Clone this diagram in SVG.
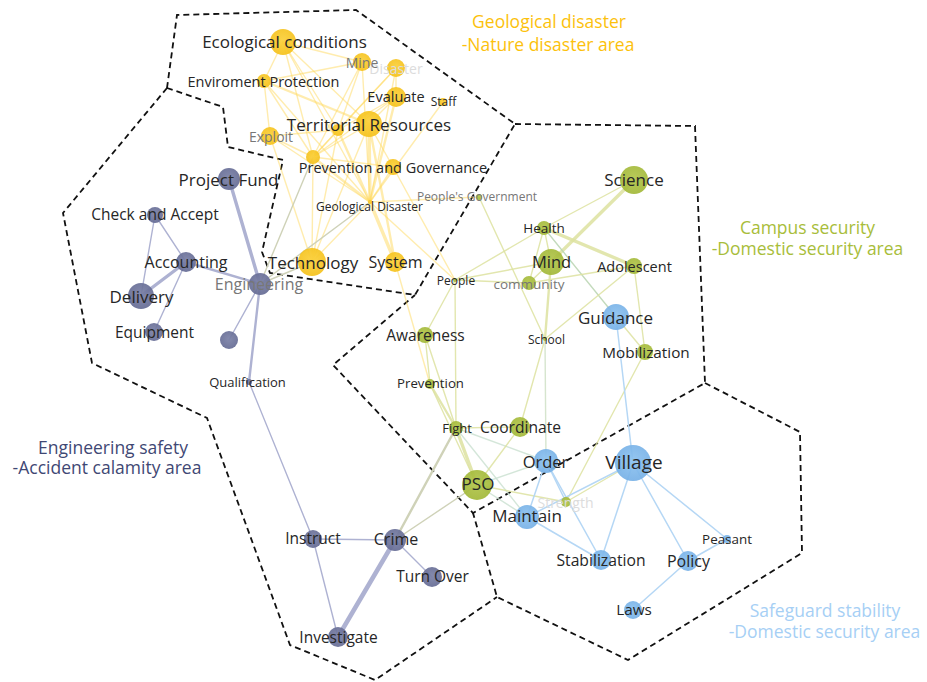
<svg xmlns="http://www.w3.org/2000/svg" width="927" height="682" viewBox="0 0 927 682">
  <defs>
    <radialGradient id="gy" cx="50%" cy="45%" r="55%">
      <stop offset="0" stop-color="#fbd03a"/>
      <stop offset="1" stop-color="#f5c11a"/>
    </radialGradient>
    <radialGradient id="gg" cx="50%" cy="45%" r="55%">
      <stop offset="0" stop-color="#b2c54a"/>
      <stop offset="1" stop-color="#a2b838"/>
    </radialGradient>
    <radialGradient id="gb" cx="50%" cy="45%" r="55%">
      <stop offset="0" stop-color="#8cc2f0"/>
      <stop offset="1" stop-color="#76b0e6"/>
    </radialGradient>
    <radialGradient id="gs" cx="50%" cy="45%" r="55%">
      <stop offset="0" stop-color="#7a80a6"/>
      <stop offset="1" stop-color="#646a93"/>
    </radialGradient>
    <style>
      .bd { fill: none; stroke: #111; stroke-width: 1.8; stroke-dasharray: 6 4; stroke-linejoin: miter; }
      .e { fill: none; stroke-linecap: round; }
      .ey { stroke: #ffd95e; stroke-opacity: .5; stroke-width: 1.4; }
      .eg { stroke: #dde2a0; stroke-opacity: .85; stroke-width: 1.4; }
      .eb { stroke: #b5d7f5; stroke-width: 1.5; }
      .es { stroke: #aeb2d2; stroke-width: 1.4; }
      .ex { stroke: #cfd2b8; stroke-width: 1.4; }
      .w2 { stroke-width: 2.4; }
      .w3 { stroke-width: 3.4; }
      .w4 { stroke-width: 4.5; }
      .ny { fill: url(#gy); opacity: .92; }
      .ng { fill: url(#gg); opacity: .92; }
      .nb { fill: url(#gb); opacity: .92; }
      .ns { fill: url(#gs); opacity: .92; }
      text { font-family: "Open Sans", "Noto Sans", "DejaVu Sans", sans-serif; text-anchor: middle; dominant-baseline: central; }
      .t { fill: #262626; }
      .tg { fill: #777; }
      .tf { fill: #dcdcdc; }
      .ry { fill: #fcc10c; font-size: 17.5px; }
      .rg { fill: #a8bd3a; font-size: 17.5px; }
      .rs { fill: #3f4874; font-size: 17.5px; }
      .rb { fill: #a6cff5; font-size: 17.5px; }
    </style>
  </defs>
  <rect width="927" height="682" fill="#fff"/>

  <!-- area borders -->
  <g id="borders">
    <path class="bd" d="M167,88 L177,15 L356,10 L515,124 L415,295 L270,273 L262,252 L283,160 L228,147 L223,107 Z"/>
    <path class="bd" d="M515,124 L695,126 L705,383 L473,513 L333,365 L415,295"/>
    <path class="bd" d="M705,383 L800,432 L802,553 L628,660 L497,597 L473,513"/>
    <path class="bd" d="M167,88 L63,213 L92,363 L207,418 L290,645 L375,680 L497,597"/>
  </g>

  <!-- connectors -->
  <g id="connectors" class="e">
    <!-- geological cluster -->
    <line class="ey" x1="283" y1="42" x2="362" y2="62"/>
    <line class="ey" x1="283" y1="42" x2="264" y2="81"/>
    <line class="ey" x1="283" y1="42" x2="338" y2="130"/>
    <line class="ey" x1="283" y1="42" x2="369" y2="124"/>
    <line class="ey" x1="283" y1="42" x2="313" y2="157"/>
    <line class="ey" x1="283" y1="42" x2="370" y2="202"/>
    <line class="ey" x1="264" y1="81" x2="362" y2="62"/>
    <line class="ey w2" x1="264" y1="81" x2="369" y2="124"/>
    <line class="ey" x1="264" y1="81" x2="270" y2="136"/>
    <line class="ey" x1="264" y1="81" x2="313" y2="157"/>
    <line class="ey" x1="264" y1="81" x2="370" y2="202"/>
    <line class="ey" x1="362" y1="62" x2="338" y2="130"/>
    <line class="ey" x1="362" y1="62" x2="313" y2="157"/>
    <line class="ey" x1="362" y1="62" x2="370" y2="202"/>
    <line class="ey" x1="396" y1="68" x2="338" y2="130"/>
    <line class="ey" x1="396" y1="68" x2="396" y2="97"/>
    <line class="ey" x1="396" y1="68" x2="370" y2="202"/>
    <line class="ey" x1="396" y1="68" x2="313" y2="157"/>
    <line class="ey" x1="396" y1="97" x2="338" y2="130"/>
    <line class="ey w2" x1="396" y1="97" x2="370" y2="202"/>
    <line class="ey" x1="396" y1="97" x2="369" y2="124"/>
    <line class="ey" x1="396" y1="97" x2="313" y2="157"/>
    <line class="ey" x1="443" y1="102" x2="370" y2="202"/>
    <line class="ey w3" x1="369" y1="124" x2="370" y2="202"/>
    <line class="ey w2" x1="369" y1="124" x2="395" y2="262"/>
    <line class="ey" x1="369" y1="124" x2="312" y2="262"/>
    <line class="ey" x1="369" y1="124" x2="313" y2="157"/>
    <line class="ey" x1="369" y1="124" x2="393" y2="167"/>
    <line class="ey" x1="338" y1="130" x2="312" y2="262"/>
    <line class="ey w2" x1="338" y1="130" x2="370" y2="202"/>
    <line class="ey" x1="338" y1="130" x2="313" y2="157"/>
    <line class="ey" x1="270" y1="136" x2="338" y2="130"/>
    <line class="ey" x1="270" y1="136" x2="313" y2="157"/>
    <line class="ey" x1="270" y1="136" x2="312" y2="262"/>
    <line class="ey" x1="270" y1="136" x2="370" y2="202"/>
    <line class="ey" x1="313" y1="157" x2="312" y2="262"/>
    <line class="ey w2" x1="313" y1="157" x2="370" y2="202"/>
    <line class="ey" x1="313" y1="157" x2="393" y2="167"/>
    <line class="ey" x1="393" y1="167" x2="370" y2="202"/>
    <line class="ey" x1="393" y1="167" x2="455" y2="280"/>
    <line class="ey w3" x1="370" y1="202" x2="395" y2="262"/>
    <line class="ey" x1="370" y1="202" x2="312" y2="262"/>
    <line class="ey" x1="370" y1="202" x2="455" y2="280"/>
    <line class="ey" x1="370" y1="202" x2="479" y2="197"/>
    <line class="ey" x1="395" y1="262" x2="430" y2="384"/>
    <line class="ex" x1="260" y1="284" x2="370" y2="202"/>
    <line class="ex" x1="260" y1="284" x2="313" y2="157"/>
    <line class="ex" x1="260" y1="284" x2="312" y2="262"/>

    <!-- campus cluster -->
    <line class="eg" x1="479" y1="197" x2="545" y2="339"/>
    <line class="eg" x1="634" y1="180" x2="544" y2="228"/>
    <line class="eg w3" x1="634" y1="180" x2="551" y2="262"/>
    <line class="eg" x1="544" y1="228" x2="551" y2="262"/>
    <line class="eg w3" x1="544" y1="228" x2="634" y2="266"/>
    <line class="eg" x1="544" y1="228" x2="455" y2="280"/>
    <line class="eg" x1="544" y1="228" x2="529" y2="283"/>
    <line class="eg" x1="544" y1="228" x2="616" y2="317" style="stroke:#b9d3b0"/>
    <line class="eg" x1="551" y1="262" x2="455" y2="280"/>
    <line class="eg" x1="551" y1="262" x2="529" y2="283"/>
    <line class="eg w2" x1="551" y1="262" x2="545" y2="339"/>
    <line class="eg" x1="455" y1="280" x2="529" y2="283"/>
    <line class="eg" x1="529" y1="283" x2="634" y2="266"/>
    <line class="eg" x1="455" y1="280" x2="425" y2="335"/>
    <line class="eg" x1="455" y1="280" x2="456" y2="428"/>
    <line class="eg" x1="634" y1="266" x2="545" y2="339"/>
    <line class="eg" x1="634" y1="266" x2="645" y2="352"/>
    <line class="eg" x1="616" y1="317" x2="645" y2="352"/>
    <line class="eg" x1="645" y1="352" x2="566" y2="502"/>
    <line class="eg" x1="545" y1="339" x2="520" y2="427"/>
    <line class="eg" x1="545" y1="339" x2="546" y2="461" style="stroke:#cfe0c6"/>
    <line class="eg" x1="425" y1="335" x2="430" y2="384"/>
    <line class="eg" x1="425" y1="335" x2="456" y2="428"/>
    <line class="eg w2" x1="430" y1="384" x2="456" y2="428"/>
    <line class="eg" x1="430" y1="384" x2="477" y2="485"/>
    <line class="eg w3" x1="456" y1="428" x2="477" y2="485"/>
    <line class="eg" x1="456" y1="428" x2="520" y2="427"/>
    <line class="eg" x1="456" y1="428" x2="546" y2="461" style="stroke:#cde2d2"/>
    <line class="eg" x1="456" y1="428" x2="527" y2="517" style="stroke:#cde2d2"/>
    <line class="eg" x1="520" y1="427" x2="477" y2="485"/>
    <line class="eg" x1="477" y1="485" x2="546" y2="461" style="stroke:#cde2d2"/>
    <line class="eg" x1="477" y1="485" x2="566" y2="502"/>
    <line class="eg" x1="477" y1="485" x2="527" y2="517" style="stroke:#cde2d2"/>
    <line class="eg" x1="566" y1="502" x2="633" y2="463"/>

    <!-- safeguard cluster -->
    <line class="eb" x1="616" y1="317" x2="633" y2="463"/>
    <line class="eb" x1="546" y1="461" x2="527" y2="517"/>
    <line class="eb" x1="546" y1="461" x2="601" y2="560"/>
    <line class="eb" x1="546" y1="461" x2="566" y2="502"/>
    <line class="eb" x1="633" y1="463" x2="527" y2="517"/>
    <line class="eb" x1="633" y1="463" x2="601" y2="560"/>
    <line class="eb" x1="633" y1="463" x2="688" y2="561"/>
    <line class="eb" x1="633" y1="463" x2="727" y2="539"/>
    <line class="eb" x1="527" y1="517" x2="601" y2="560"/>
    <line class="eb" x1="688" y1="561" x2="727" y2="539"/>
    <line class="eb" x1="688" y1="561" x2="633" y2="610"/>

    <!-- engineering cluster -->
    <line class="es w3" x1="229" y1="179" x2="260" y2="284"/>
    <line class="es" x1="155" y1="215" x2="186" y2="262"/>
    <line class="es" x1="155" y1="215" x2="141" y2="296"/>
    <line class="es w3" x1="186" y1="262" x2="141" y2="296"/>
    <line class="es" x1="186" y1="262" x2="154" y2="332"/>
    <line class="es w2" x1="186" y1="262" x2="260" y2="284"/>
    <line class="es" x1="260" y1="284" x2="229" y2="340"/>
    <line class="es w2" x1="260" y1="284" x2="249" y2="382"/>
    <line class="es" x1="249" y1="382" x2="313" y2="539"/>
    <line class="es" x1="313" y1="539" x2="395" y2="540"/>
    <line class="es" x1="313" y1="539" x2="338" y2="637"/>
    <line class="es w4" x1="395" y1="540" x2="338" y2="637"/>
    <line class="es" x1="395" y1="540" x2="432" y2="577"/>
    <line class="ex w2" x1="395" y1="540" x2="456" y2="428"/>
    <line class="ex" x1="395" y1="540" x2="477" y2="485"/>
  </g>

  <!-- geological disaster nodes -->
  <g id="ecological-conditions"><circle class="ny" cx="283" cy="42" r="13"/><text class="t" x="284.5" y="41" font-size="17">Ecological conditions</text></g>
  <g id="disaster"><circle class="ny" cx="396" cy="68" r="9"/><text class="tf" x="396" y="68" font-size="14">Disaster</text></g>
  <g id="mine"><circle class="ny" cx="362" cy="62" r="9"/><text class="tg" x="362" y="62" font-size="14">Mine</text></g>
  <g id="enviroment-protection"><circle class="ny" cx="264" cy="81" r="7"/><text class="t" x="263.5" y="81" font-size="14.5">Enviroment Protection</text></g>
  <g id="evaluate"><circle class="ny" cx="396" cy="97" r="10"/><text class="t" x="396" y="96" font-size="14.5">Evaluate</text></g>
  <g id="staff"><circle class="ny" cx="443" cy="102" r="4"/><text class="t" x="443.5" y="101" font-size="12">Staff</text></g>
  <g id="territorial-resources"><circle class="ny" cx="369" cy="124" r="13"/><circle class="ny" cx="338" cy="130" r="6"/><text class="t" x="369" y="124" font-size="17">Territorial Resources</text></g>
  <g id="exploit"><circle class="ny" cx="270" cy="136" r="9"/><text class="tg" x="271" y="136" font-size="14">Exploit</text></g>
  <g id="prevention-and-governance"><circle class="ny" cx="313" cy="157" r="7"/><circle class="ny" cx="393" cy="167" r="8"/><text class="t" x="393" y="167" font-size="14.5">Prevention and Governance</text></g>
  <g id="geological-disaster"><circle class="ny" cx="370" cy="202" r="2"/><text class="t" x="369.5" y="206" font-size="12">Geological Disaster</text></g>
  <g id="technology"><circle class="ny" cx="312" cy="262" r="14"/><text class="t" x="313" y="262" font-size="17">Technology</text></g>
  <g id="system"><circle class="ny" cx="395" cy="262" r="10"/><text class="t" x="395.5" y="262" font-size="16">System</text></g>

  <!-- engineering safety nodes -->
  <g id="project-fund"><circle class="ns" cx="229" cy="179" r="11"/><text class="t" x="228.5" y="179" font-size="17">Project Fund</text></g>
  <g id="check-and-accept"><circle class="ns" cx="155" cy="215" r="8"/><text class="t" x="155" y="214" font-size="15.5">Check and Accept</text></g>
  <g id="accounting"><circle class="ns" cx="186" cy="262" r="10"/><text class="t" x="186" y="262" font-size="16">Accounting</text></g>
  <g id="delivery"><circle class="ns" cx="141" cy="296" r="13"/><text class="t" x="141.5" y="296" font-size="17">Delivery</text></g>
  <g id="engineering"><circle class="ns" cx="260" cy="284" r="11"/><text class="tg" x="259" y="284" font-size="16">Engineering</text></g>
  <g id="equipment"><circle class="ns" cx="154" cy="332" r="9"/><text class="t" x="154.5" y="332" font-size="15.5">Equipment</text></g>
  <g id="unnamed-node"><circle class="ns" cx="229" cy="340" r="9"/></g>
  <g id="qualification"><circle class="ns" cx="249" cy="382" r="3"/><text class="t" x="247.5" y="382" font-size="13">Qualification</text></g>
  <g id="instruct"><circle class="ns" cx="313" cy="539" r="9"/><text class="t" x="313" y="538" font-size="15.5">Instruct</text></g>
  <g id="crime"><circle class="ns" cx="395" cy="540" r="11"/><text class="t" x="396" y="539" font-size="16">Crime</text></g>
  <g id="turn-over"><circle class="ns" cx="432" cy="577" r="10"/><text class="t" x="432.5" y="576" font-size="15.5">Turn Over</text></g>
  <g id="investigate"><circle class="ns" cx="338" cy="637" r="10"/><text class="t" x="338.5" y="637" font-size="15.5">Investigate</text></g>

  <!-- campus security nodes -->
  <g id="peoples-government"><circle class="ng" cx="479" cy="197" r="3"/><text class="tg" x="477" y="196" font-size="12">People's Government</text></g>
  <g id="science"><circle class="ng" cx="634" cy="180" r="14"/><text class="t" x="634" y="179" font-size="17">Science</text></g>
  <g id="health"><circle class="ng" cx="544" cy="228" r="7"/><text class="t" x="544" y="228" font-size="13.5">Health</text></g>
  <g id="mind"><circle class="ng" cx="551" cy="262" r="13"/><text class="t" x="551.5" y="261" font-size="16.5">Mind</text></g>
  <g id="adolescent"><circle class="ng" cx="634" cy="266" r="8"/><text class="t" x="634.5" y="266" font-size="14.5">Adolescent</text></g>
  <g id="people"><circle class="ng" cx="455" cy="280" r="2"/><text class="t" x="456" y="280" font-size="12">People</text></g>
  <g id="community"><circle class="ng" cx="529" cy="283" r="7"/><text class="tg" x="529" y="284" font-size="13.5">community</text></g>
  <g id="awareness"><circle class="ng" cx="425" cy="335" r="8"/><text class="t" x="425.5" y="335" font-size="15.5">Awareness</text></g>
  <g id="school"><circle class="ng" cx="545" cy="339" r="2"/><text class="t" x="546.5" y="339" font-size="12">School</text></g>
  <g id="mobilization"><circle class="ng" cx="645" cy="352" r="8"/><text class="t" x="646" y="352" font-size="15.3">Mobilization</text></g>
  <g id="prevention"><circle class="ng" cx="430" cy="384" r="5"/><text class="t" x="430.5" y="383" font-size="13.2">Prevention</text></g>
  <g id="fight"><circle class="ng" cx="456" cy="428" r="7"/><text class="t" x="457" y="428" font-size="13">Fight</text></g>
  <g id="coordinate"><circle class="ng" cx="520" cy="427" r="10"/><text class="t" x="520.5" y="427" font-size="15.6">Coordinate</text></g>
  <g id="strength"><circle class="ng" cx="566" cy="502" r="5"/><text class="tf" x="565.5" y="502" font-size="14">Strength</text></g>
  <g id="pso"><circle class="ng" cx="477" cy="485" r="15"/><text class="t" x="478" y="483" font-size="17">PSO</text></g>

  <!-- safeguard stability nodes -->
  <g id="guidance"><circle class="nb" cx="616" cy="317" r="13"/><text class="t" x="615.5" y="317" font-size="17">Guidance</text></g>
  <g id="order"><circle class="nb" cx="546" cy="461" r="12"/><text class="t" x="545.5" y="461" font-size="16.5">Order</text></g>
  <g id="village"><circle class="nb" cx="633" cy="463" r="18"/><text class="t" x="634" y="462" font-size="19">Village</text></g>
  <g id="maintain"><circle class="nb" cx="527" cy="517" r="12"/><text class="t" x="527" y="515" font-size="17">Maintain</text></g>
  <g id="stabilization"><circle class="nb" cx="601" cy="560" r="10"/><text class="t" x="601" y="560" font-size="15.7">Stabilization</text></g>
  <g id="peasant"><circle class="nb" cx="727" cy="539" r="4"/><text class="t" x="727" y="539" font-size="13.4">Peasant</text></g>
  <g id="policy"><circle class="nb" cx="688" cy="561" r="10"/><text class="t" x="688.5" y="561" font-size="16">Policy</text></g>
  <g id="laws"><circle class="nb" cx="633" cy="610" r="9"/><text class="t" x="634" y="609" font-size="15.3">Laws</text></g>

  <!-- area titles -->
  <g id="area-titles">
    <text class="ry" x="549" y="21">Geological disaster</text>
    <text class="ry" x="548" y="44">-Nature disaster area</text>
    <text class="rg" x="807.5" y="227">Campus security</text>
    <text class="rg" x="807.5" y="248">-Domestic security area</text>
    <text class="rs" x="113" y="447">Engineering safety</text>
    <text class="rs" x="107" y="467">-Accident calamity area</text>
    <text class="rb" x="825" y="610">Safeguard stability</text>
    <text class="rb" x="824.5" y="631">-Domestic security area</text>
  </g>
</svg>
